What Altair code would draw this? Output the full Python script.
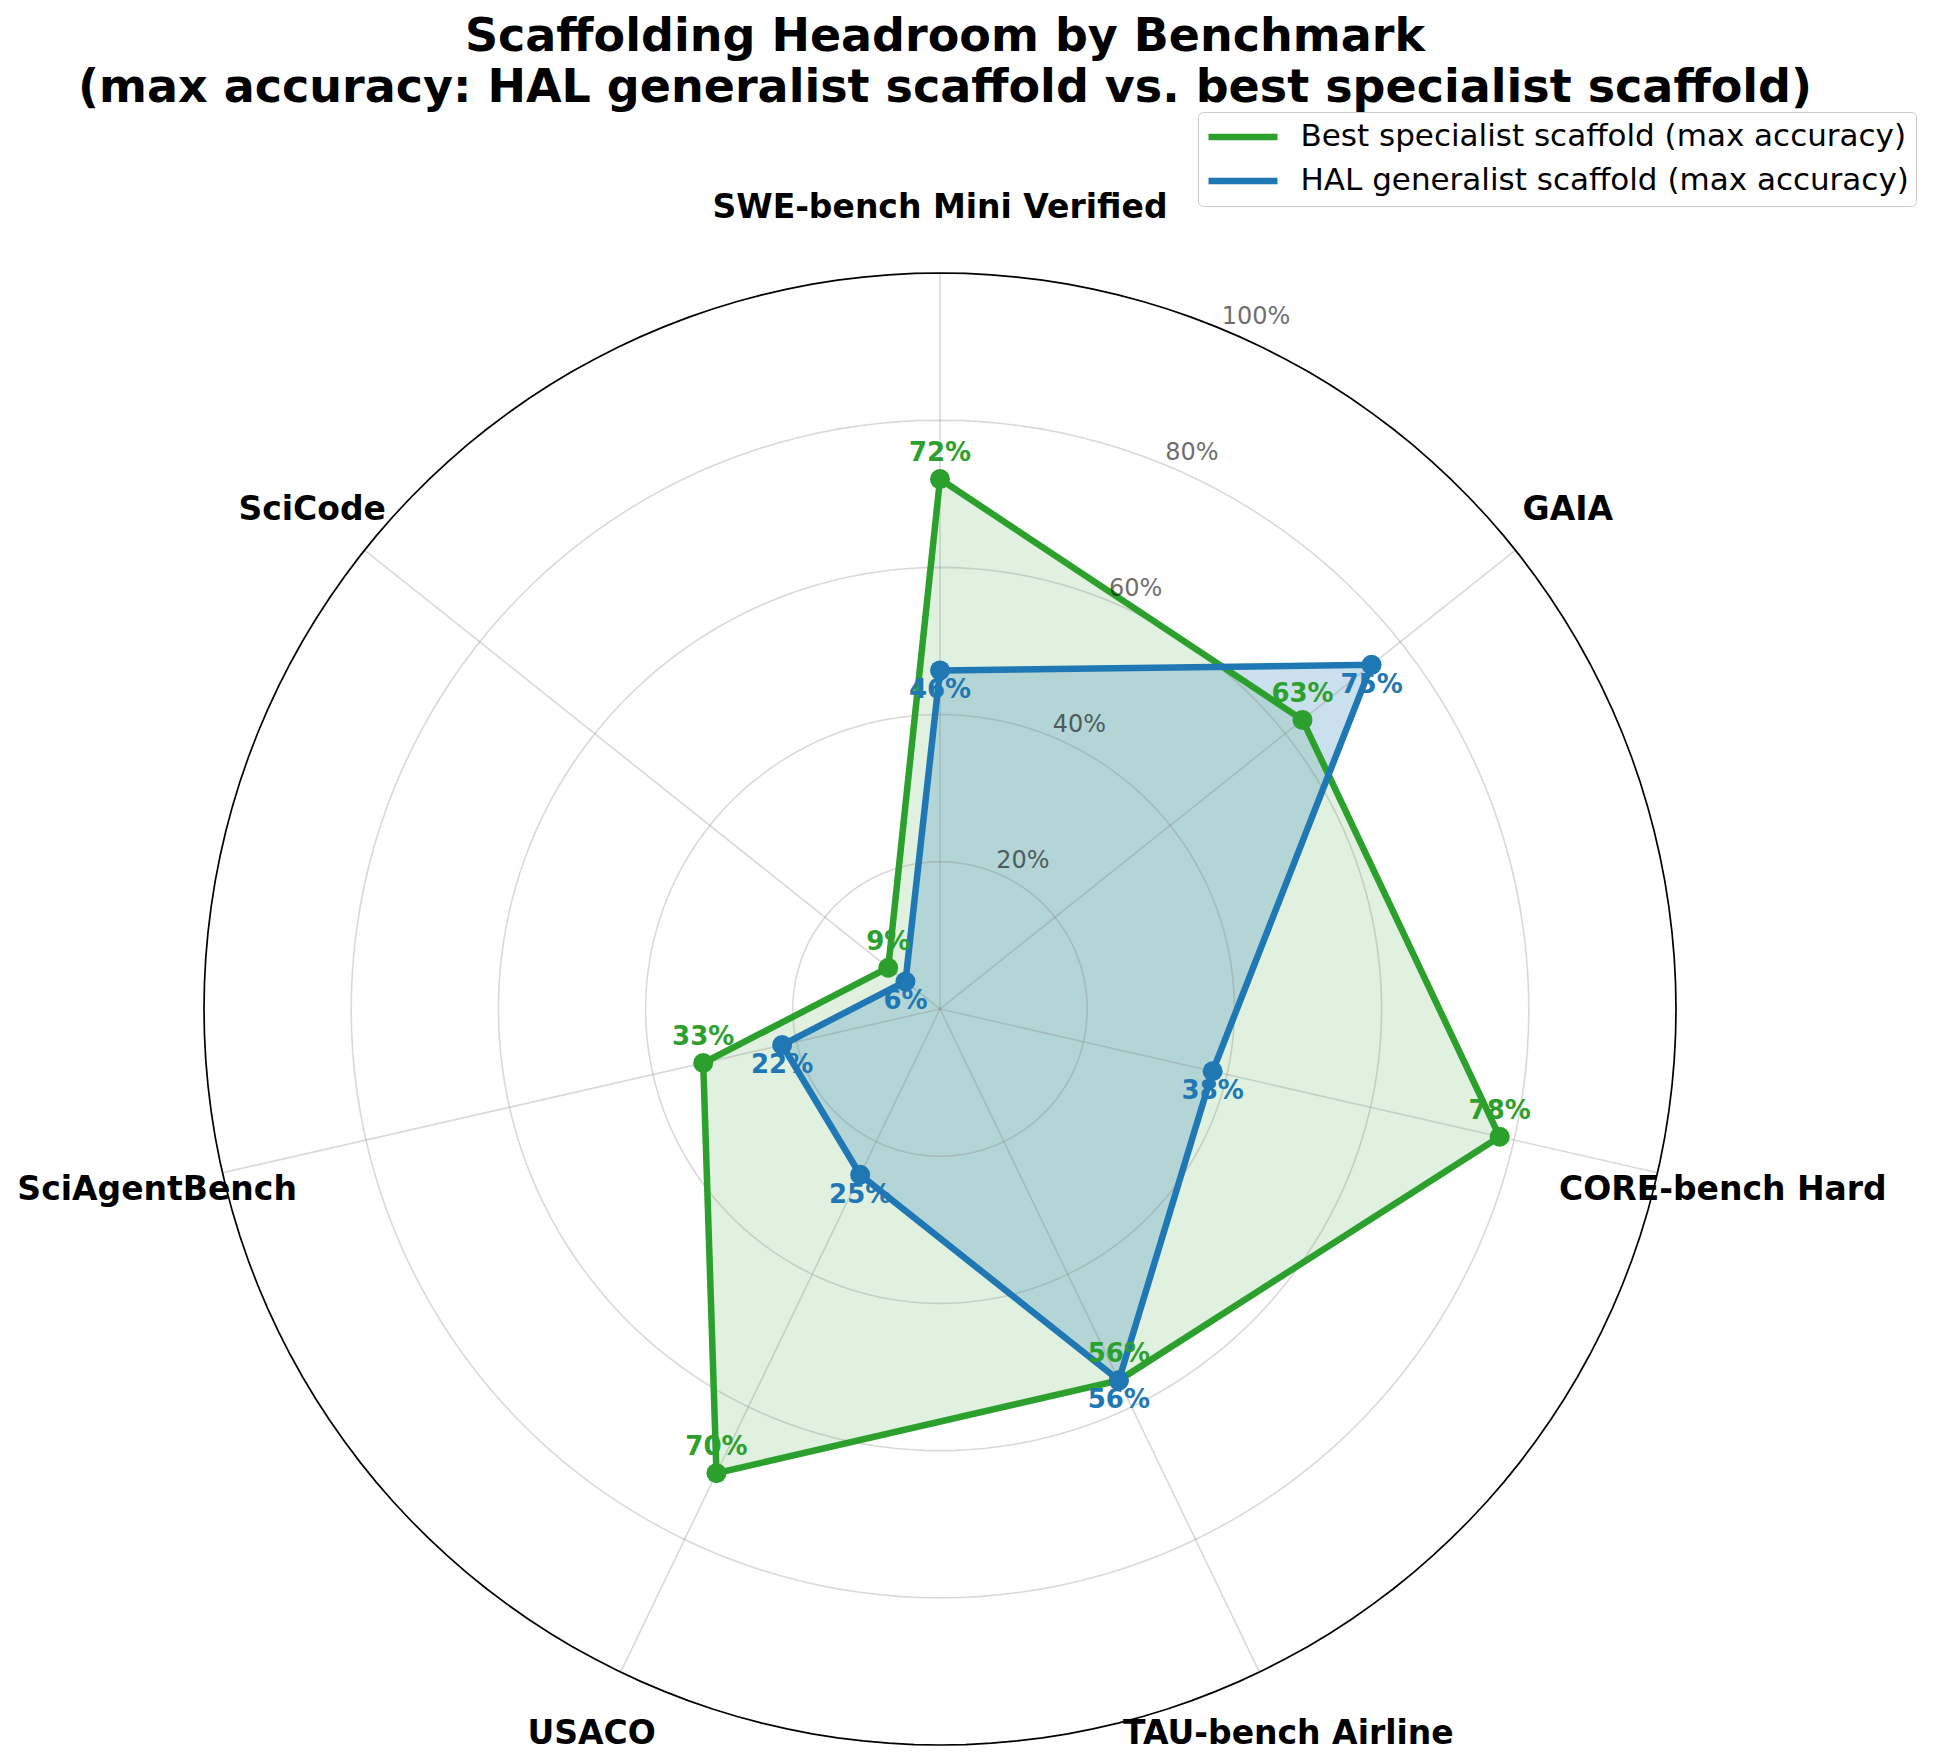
import altair as alt
import pandas as pd

# ---------------- data ----------------
categories = ["SWE-bench Mini Verified", "GAIA", "CORE-bench Hard", "TAU-bench Airline",
              "USACO", "SciAgentBench", "SciCode"]
best_specialist = [72, 63, 78, 56, 70, 33, 9]
hal_generalist = [46, 75, 38, 56, 25, 22, 6]
series_names = ["Best specialist scaffold (max accuracy)", "HAL generalist scaffold (max accuracy)"]
series_colors = ["#2ca02c", "#1f77b4"]
ring_levels = [20, 40, 60, 80, 100]
ring_labels = ["20%", "40%", "60%", "80%", "100%"]

N = len(categories)

# ---------------- layout (pixels) ----------------
CX, CY, R = 940, 1009, 736
PAD_L, PAD_T, PAD_R, PAD_B = 0, 125, 48, 18
W, H = 1874, 1600
view_left = 8 + PAD_L
view_top = 8 + PAD_T
x_dom = [(view_left - CX) / R, (view_left + W - CX) / R]
y_dom = [(CY - (view_top + H)) / R, (CY - view_top) / R]
LAB_R = 803 / R
FONT = "DejaVu Sans"

rows = []
for s, vals in zip(series_names, [best_specialist, hal_generalist]):
    for i, (c, v) in enumerate(zip(categories, vals)):
        rows.append({"series": s, "idx": i, "category": c, "value": v})
df = pd.DataFrame(rows)
cat_df = pd.DataFrame({"idx": list(range(N)), "category": categories})
ring_df = pd.DataFrame({"level": ring_levels, "label": ring_labels})

xs = alt.Scale(domain=x_dom, nice=False, zero=False)
ys = alt.Scale(domain=y_dom, nice=False, zero=False)


def X(f):
    return alt.X(f, type="quantitative", scale=xs, axis=None)


def Y(f):
    return alt.Y(f, type="quantitative", scale=ys, axis=None)


base = alt.Chart(df).transform_calculate(
    ang=f"2*PI*datum.idx/{N}"
).transform_calculate(
    px="datum.value/100*sin(datum.ang)",
    py="datum.value/100*cos(datum.ang)",
    label="datum.value + '%'",
)


def only(i):
    return base.transform_filter(alt.datum.series == series_names[i])


fills = [
    only(i).mark_line(interpolate="linear-closed", fill=series_colors[i],
                      fillOpacity=op, strokeOpacity=0, strokeWidth=0)
    .encode(x=X("px"), y=Y("py"), order=alt.Order("idx:Q"))
    for i, op in [(0, 0.15), (1, 0.23)]
]

rings = alt.Chart(ring_df).transform_calculate(
    deg="sequence(0, 361, 2)"
).transform_flatten(["deg"]).transform_calculate(
    px="datum.level/100*sin(datum.deg*PI/180)",
    py="datum.level/100*cos(datum.deg*PI/180)",
)
grid_rings = rings.transform_filter("datum.level < 100").mark_line(
    stroke="#808080", strokeOpacity=0.3, strokeWidth=1.6
).encode(x=X("px"), y=Y("py"), detail="level:N", order=alt.Order("deg:Q"))
outer = rings.transform_filter("datum.level == 100").mark_line(
    stroke="black", strokeWidth=1.7
).encode(x=X("px"), y=Y("py"), order=alt.Order("deg:Q"))

spokes = alt.Chart(cat_df).transform_calculate(
    ang=f"2*PI*datum.idx/{N}"
).transform_calculate(
    x0="0", y0="0", x1="sin(datum.ang)", y1="cos(datum.ang)"
).mark_rule(stroke="#808080", strokeOpacity=0.3, strokeWidth=1.6).encode(
    x=X("x0"), y=Y("y0"), x2=alt.X2("x1"), y2=alt.Y2("y1")
)

lines = base.mark_line(interpolate="linear-closed", strokeWidth=6.5).encode(
    x=X("px"), y=Y("py"), order=alt.Order("idx:Q"),
    color=alt.Color(
        "series:N",
        scale=alt.Scale(domain=series_names, range=series_colors),
        legend=alt.Legend(
            title=None, orient="none", legendX=1198 - view_left, legendY=112 - view_top,
            symbolType="stroke", symbolSize=69 * 69, symbolStrokeWidth=6.5,
            labelFont=FONT, labelFontSize=31, labelColor="black", labelLimit=2000,
            labelOffset=19.5, padding=7, rowPadding=8, clipHeight=36,
            strokeColor="#cccccc", fillColor="white", cornerRadius=5,
        ),
    ),
)

points = [
    only(i).mark_circle(size=400, opacity=1, color=series_colors[i]).encode(x=X("px"), y=Y("py"))
    for i in range(2)
]

r_labels = alt.Chart(ring_df).transform_calculate(
    px="datum.level/100*sin(PI/8)", py="datum.level/100*cos(PI/8)"
).mark_text(align="left", baseline="bottom", font=FONT, fontSize=24,
            color="black", opacity=0.57).encode(x=X("px"), y=Y("py"), text="label:N")

value_labels = [
    only(i).mark_text(font=FONT, fontSize=26, fontWeight="bold", color=series_colors[i],
                      dy=d, align="center", baseline="middle")
    .encode(x=X("px"), y=Y("py"), text="label:N")
    for i, d in [(0, -26), (1, 20)]
]

cat_labels = alt.Chart(cat_df).transform_calculate(
    ang=f"2*PI*datum.idx/{N}"
).transform_calculate(
    px=f"{LAB_R}*sin(datum.ang)", py=f"{LAB_R}*cos(datum.ang)"
).mark_text(font=FONT, fontSize=33, fontWeight="bold", color="black",
            align="center", baseline="middle", dy=2).encode(
    x=X("px"), y=Y("py"), text="category:N"
)

chart = alt.layer(
    *fills, grid_rings, spokes, outer, lines, *points, r_labels, *value_labels, cat_labels
).properties(
    width=W, height=H,
    title=alt.TitleParams(
        text=["Scaffolding Headroom by Benchmark",
              "(max accuracy: HAL generalist scaffold vs. best specialist scaffold)"],
        font=FONT, fontSize=46, fontWeight="bold", color="black",
        anchor="middle", lineHeight=51, offset=0,
    ),
    padding={"left": PAD_L, "top": PAD_T, "right": PAD_R, "bottom": PAD_B},
    autosize=alt.AutoSizeParams(type="none"),
).configure_view(strokeWidth=0)

chart.save("out.html", embed_options={"renderer": "svg", "actions": False})
